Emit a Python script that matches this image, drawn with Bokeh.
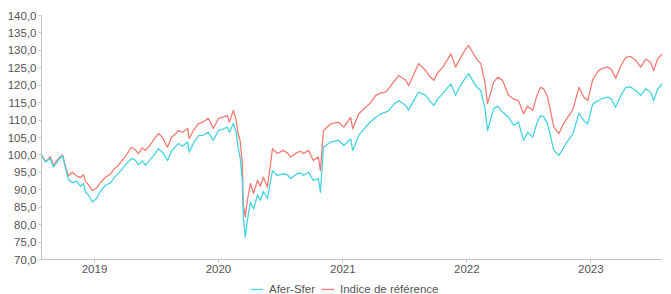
import pandas as pd
from bokeh.plotting import figure
from bokeh.layouts import column
from bokeh.models import (Range1d, FixedTicker, CustomJSTickFormatter,
                          DatetimeTickFormatter, Legend, LegendItem)
from bokeh.embed import file_html
from bokeh.resources import INLINE

# ---- data ----
dates = [
    "2018-07-29", "2018-08-10", "2018-08-24", "2018-09-02", "2018-09-17", "2018-09-29",
    "2018-10-07", "2018-10-16", "2018-10-28", "2018-11-09", "2018-11-21", "2018-11-30",
    "2018-12-05", "2018-12-14", "2018-12-26", "2019-01-07", "2019-01-18", "2019-02-02",
    "2019-02-17", "2019-02-28", "2019-03-12", "2019-03-24", "2019-04-05", "2019-04-20",
    "2019-05-01", "2019-05-10", "2019-05-22", "2019-05-31", "2019-06-15", "2019-06-26",
    "2019-07-08", "2019-07-20", "2019-08-04", "2019-08-15", "2019-08-27", "2019-09-05",
    "2019-09-17", "2019-10-02", "2019-10-07", "2019-10-19", "2019-11-03", "2019-11-18",
    "2019-12-02", "2019-12-17", "2020-01-01", "2020-01-12", "2020-01-27", "2020-02-02",
    "2020-02-14", "2020-02-22", "2020-02-28", "2020-03-05", "2020-03-11", "2020-03-14",
    "2020-03-20", "2020-03-26", "2020-04-04", "2020-04-13", "2020-04-25", "2020-05-03",
    "2020-05-12", "2020-05-24", "2020-06-08", "2020-06-22", "2020-07-10", "2020-07-22",
    "2020-07-31", "2020-08-09", "2020-08-21", "2020-08-30", "2020-09-07", "2020-09-22",
    "2020-10-06", "2020-10-21", "2020-10-27", "2020-11-05", "2020-11-26", "2020-12-19",
    "2021-01-04", "2021-01-24", "2021-01-30", "2021-02-17", "2021-03-09", "2021-03-24",
    "2021-04-08", "2021-04-23", "2021-05-07", "2021-05-16", "2021-05-31", "2021-06-15",
    "2021-07-05", "2021-07-14", "2021-07-28", "2021-08-12", "2021-09-02", "2021-09-14",
    "2021-09-26", "2021-10-07", "2021-10-22", "2021-11-03", "2021-11-15", "2021-11-29",
    "2021-12-11", "2021-12-23", "2022-01-06", "2022-01-21", "2022-01-30", "2022-02-11",
    "2022-02-23", "2022-03-03", "2022-03-21", "2022-04-02", "2022-04-16", "2022-05-04",
    "2022-05-19", "2022-06-02", "2022-06-17", "2022-06-29", "2022-07-14", "2022-07-26",
    "2022-08-06", "2022-08-15", "2022-08-27", "2022-09-14", "2022-09-29", "2022-10-10",
    "2022-10-19", "2022-11-09", "2022-11-27", "2022-12-11", "2022-12-23", "2023-01-06",
    "2023-01-12", "2023-01-24", "2023-02-04", "2023-02-20", "2023-03-03", "2023-03-15",
    "2023-03-30", "2023-04-14", "2023-04-28", "2023-05-13", "2023-05-28", "2023-06-12",
    "2023-06-26", "2023-07-05", "2023-07-17", "2023-07-31",
]

indice = [
    100.0, 98.0, 99.5, 97.0, 99.0, 100.0,
    97.0, 94.0, 95.0, 94.0, 93.5, 94.3,
    92.5, 91.5, 89.8, 90.5, 92.0, 93.6,
    94.5, 96.0, 97.0, 98.5, 100.0, 102.2,
    101.5, 100.4, 102.0, 101.3, 103.0, 104.5,
    106.2, 105.0, 102.2, 105.0, 106.0, 107.0,
    106.5, 107.6, 104.7, 107.0, 109.0, 109.5,
    110.5, 107.6, 110.5, 110.8, 111.3, 109.4,
    112.8, 110.0, 106.0, 104.0, 97.6, 86.0,
    82.2, 87.0, 91.8, 89.0, 92.7, 91.0,
    93.6, 90.8, 101.8, 100.4, 101.3, 100.6,
    99.4, 100.0, 100.8, 101.0, 100.4, 101.3,
    98.4, 99.4, 95.5, 107.0, 108.9, 109.4,
    108.0, 110.8, 107.5, 111.8, 113.7, 115.0,
    117.1, 117.8, 118.0, 119.0, 121.0, 122.8,
    121.4, 119.9, 123.0, 126.2, 124.2, 122.5,
    121.4, 123.5, 125.2, 127.0, 129.0, 125.2,
    127.5, 129.5, 131.4, 129.0, 127.5, 126.2,
    121.0, 114.7, 120.9, 122.3, 121.4, 117.1,
    116.0, 115.6, 111.8, 114.0, 112.8, 117.0,
    119.4, 119.0, 116.6, 108.0, 106.1, 108.5,
    109.9, 113.0, 119.4, 116.6, 115.6, 121.4,
    122.5, 124.2, 124.8, 125.2, 124.5, 121.9,
    125.5, 128.0, 128.3, 127.1, 125.2, 127.5,
    126.5, 124.2, 127.6, 129.0,
]

afer_sfer = [
    100.0, 98.0, 99.0, 96.5, 98.5, 99.8,
    96.5, 93.0, 92.0, 92.5, 91.0, 91.8,
    89.5, 88.5, 86.5, 87.5, 89.5, 91.3,
    92.0, 93.5, 94.7, 96.0, 97.5, 99.0,
    98.5, 97.2, 98.3, 97.0, 98.8, 100.0,
    101.8, 100.8, 98.4, 101.0, 102.3, 103.3,
    102.5, 103.7, 100.8, 103.3, 105.5, 105.7,
    106.5, 104.2, 107.0, 107.3, 108.0, 106.5,
    109.0, 106.5, 102.0, 99.0, 92.7, 82.2,
    76.4, 81.2, 86.5, 84.5, 88.5, 87.0,
    89.5, 87.5, 95.5, 94.1, 94.6, 94.3,
    93.2, 93.9, 94.7, 94.8, 94.1, 95.1,
    92.7, 93.2, 89.3, 102.2, 103.7, 104.2,
    102.7, 104.6, 101.3, 105.6, 108.0, 109.5,
    110.8, 111.8, 112.3, 112.7, 114.5, 115.6,
    114.2, 112.8, 115.5, 118.0, 117.1, 115.5,
    114.2, 116.0, 117.6, 119.0, 120.4, 117.1,
    119.5, 121.4, 123.3, 120.9, 119.5, 118.5,
    113.5, 107.0, 113.3, 114.0, 112.3, 110.8,
    108.5, 109.4, 104.2, 106.5, 105.1, 109.0,
    111.3, 111.0, 108.9, 101.3, 99.9, 101.5,
    103.2, 106.0, 112.0, 109.9, 108.9, 114.5,
    115.0, 115.6, 116.2, 116.6, 116.0, 113.7,
    117.0, 119.4, 119.5, 118.5, 117.1, 119.0,
    118.0, 115.6, 119.0, 120.4,
]

year_ticks = ["2019-01-01", "2020-01-01", "2021-01-01", "2022-01-01", "2023-01-01"]
series_labels = ["Afer-Sfer", "Indice de référence"]

CYAN = "#45d3df"
RED = "#f07c75"
TEXT = "#555555"
AXIS = "#c4c4c4"
FONT = "Liberation Sans"

x = pd.to_datetime(dates)
x_start, x_end = x[0], x[-1]

# ---- main chart ----
p = figure(width=671, height=280, x_axis_type="datetime",
           output_backend="svg", toolbar_location=None,
           x_range=Range1d(x_start, x_end), y_range=Range1d(70, 140),
           min_border_left=41, min_border_right=9, min_border_top=15,
           min_border_bottom=21)
p.outline_line_color = None
p.xgrid.visible = False
p.ygrid.visible = False

p.line(x, indice, color=RED, line_width=1.3, line_join="round")
p.line(x, afer_sfer, color=CYAN, line_width=1.3, line_join="round")

p.yaxis.ticker = FixedTicker(ticks=list(range(70, 141, 5)))
p.yaxis.formatter = CustomJSTickFormatter(code="return tick.toFixed(1).replace('.', ',')")
p.xaxis.ticker = FixedTicker(ticks=[pd.Timestamp(t).value / 1e6 for t in year_ticks],
                             minor_ticks=[])
p.xaxis.formatter = DatetimeTickFormatter(years="%Y", months="%Y", days="%Y",
                                          hours="%Y", minutes="%Y", seconds="%Y")
for ax in (p.xaxis, p.yaxis):
    ax.axis_line_color = AXIS
    ax.major_tick_line_color = AXIS
    ax.minor_tick_line_color = None
    ax.major_tick_in = 0
    ax.major_tick_out = 3
    ax.major_label_text_font = FONT
    ax.major_label_text_font_size = "11.5px"
    ax.major_label_text_color = TEXT
p.yaxis.major_label_standoff = 2
p.xaxis.major_label_standoff = 2

# ---- legend strip below (same series, ranges keep them out of view) ----
lg = figure(width=671, height=14, x_axis_type="datetime",
            output_backend="svg", toolbar_location=None,
            x_range=Range1d(x_start, x_end), y_range=Range1d(0, 1),
            x_axis_location=None, y_axis_location=None,
            min_border=0)
lg.outline_line_color = None
lg.xgrid.visible = False
lg.ygrid.visible = False
g_fund = lg.line(x, afer_sfer, color=CYAN, line_width=1.3)
g_idx = lg.line(x, indice, color=RED, line_width=1.3)

legend = Legend(items=[LegendItem(label=series_labels[0], renderers=[g_fund]),
                       LegendItem(label=series_labels[1], renderers=[g_idx])],
                location=(209, -1), orientation="horizontal",
                border_line_color=None, background_fill_alpha=0,
                padding=0, margin=0, spacing=6, label_standoff=6,
                glyph_width=13, glyph_height=10, label_height=10,
                label_text_font=FONT, label_text_font_size="11.5px",
                label_text_color=TEXT)
lg.add_layout(legend)

layout = column(p, lg, spacing=0)

open("out.html", "w").write(file_html(layout, INLINE))
